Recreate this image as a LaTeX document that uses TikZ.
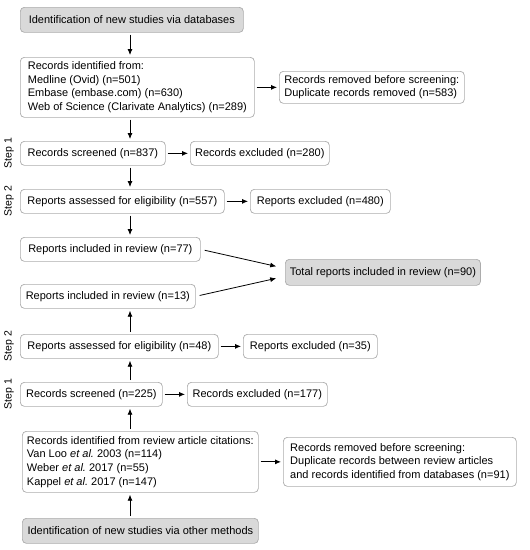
\documentclass[tikz,border=0pt]{standalone}
\usepackage{fontspec}
\setmainfont{Liberation Sans}
\usepackage{tikz}
\usetikzlibrary{arrows,arrows.meta,positioning}

\tikzset{
  box/.style={rectangle,rounded corners=4pt,draw=gray!65,line width=0.7pt,fill=white,
    anchor=north west,align=left,inner xsep=4.5pt,inner ysep=0pt,minimum height=24pt,
    font=\fontsize{11}{13.6}\selectfont},
  greybox/.style={box,fill=gray!30},
  flow/.style={-{Latex[length=6pt,width=5pt]},line width=0.8pt,shorten >=2pt,shorten <=2pt},
  steplabel/.style={rotate=90,font=\fontsize{10.5}{12}\selectfont}
}

\begin{document}
\begin{tikzpicture}[x=1pt,y=1pt]
\useasboundingbox (0,0) rectangle (530,-550);
\coordinate (ax) at (130,0);
% databases
\node[greybox,minimum width=223pt,minimum height=25pt](ident) at (20,-7){Identification of new studies via databases};
\node[box,minimum width=234pt,minimum height=60pt](recs) at (20,-57){Records identified from:\\Medline (Ovid) (n=501)\\Embase (embase.com) (n=630)\\Web of Science (Clarivate Analytics) (n=289)};
\node[box,minimum width=185pt,minimum height=32pt](rem) at (279,-71){Records removed before screening:\\Duplicate records removed (n=583)};
\node[box,minimum width=145pt](scr1) at (20,-141){Records screened (n=837)};
\node[box,minimum width=139pt](exc1) at (190,-141){Records excluded (n=280)};
\node[box,minimum width=204pt](elig1) at (20,-189){Reports assessed for eligibility (n=557)};
\node[box,minimum width=140pt](rexc1) at (250,-189){Reports excluded (n=480)};
\node[box,minimum width=180pt](incl1) at (20,-237){Reports included in review (n=77)};
% total
\node[greybox,minimum width=195pt,minimum height=26pt](total) at (285,-259){Total reports included in review (n=90)};
% other methods
\node[box,minimum width=175pt](incl2) at (20,-284){Reports included in review (n=13)};
\node[box,minimum width=198pt](elig2) at (20,-334){Reports assessed for eligibility (n=48)};
\node[box,minimum width=134pt](rexc2) at (243,-334){Reports excluded (n=35)};
\node[box,minimum width=142pt](scr2) at (20,-382){Records screened (n=225)};
\node[box,minimum width=140pt](exc2) at (187,-382){Records excluded (n=177)};
\node[box,minimum width=236pt,minimum height=61pt](cit) at (22,-431){Records identified from review article citations:\\Van Loo \textit{et al.}\ 2003 (n=114)\\Weber \textit{et al.}\ 2017 (n=55)\\Kappel \textit{et al.}\ 2017 (n=147)};
\node[box,minimum width=233pt,minimum height=49pt](rem2) at (283,-437){Records removed before screening:\\Duplicate records between review articles\\and records identified from databases (n=91)};
\node[greybox,minimum width=236pt,minimum height=25pt](other) at (22,-518){Identification of new studies via other methods};
% step labels
\node[steplabel](st1a) at (9,-153){Step 1};
\node[steplabel](st2a) at (9,-201){Step 2};
\node[steplabel](st2b) at (9,-346){Step 2};
\node[steplabel](st1b) at (9,-394){Step 1};
% arrows
\draw[flow] (ident.south -| ax) -- (recs.north -| ax);
\draw[flow] (recs.east) -- (rem.west);
\draw[flow] (recs.south -| ax) -- (scr1.north -| ax);
\draw[flow] (scr1.east) -- (exc1.west);
\draw[flow] (scr1.south -| ax) -- (elig1.north -| ax);
\draw[flow] (elig1.east) -- (rexc1.west);
\draw[flow] (elig1.south -| ax) -- (incl1.north -| ax);
\draw[flow,shorten <=4pt,shorten >=9pt] (incl1.east) -- ([yshift=4pt]total.west);
\draw[flow,shorten <=4pt,shorten >=9pt] (incl2.east) -- ([yshift=-4pt]total.west);
\draw[flow] (elig2.north -| ax) -- (incl2.south -| ax);
\draw[flow] (elig2.east) -- (rexc2.west);
\draw[flow] (scr2.north -| ax) -- (elig2.south -| ax);
\draw[flow] (scr2.east) -- (exc2.west);
\draw[flow] (cit.north -| ax) -- (scr2.south -| ax);
\draw[flow] (cit.east) -- (rem2.west);
\draw[flow] (other.north -| ax) -- (cit.south -| ax);
\end{tikzpicture}
\end{document}
